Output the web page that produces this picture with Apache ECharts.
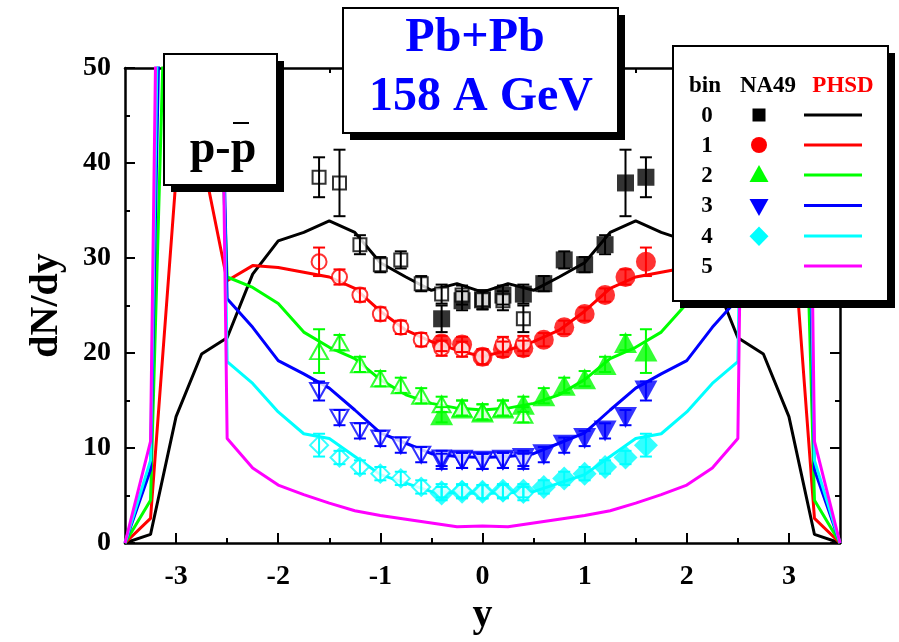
<!DOCTYPE html>
<html>
<head>
<meta charset="utf-8">
<title>Pb+Pb 158 A GeV  p - pbar</title>
<script src="https://cdn.jsdelivr.net/npm/echarts@6.0.0/dist/echarts.min.js"></script>
<style>
    html, body { margin: 0; padding: 0; background: #ffffff; }
    #chart01 { width: 899px; height: 642px; }
</style>
</head>
<body>
<div id="chart01"></div>
<script>
var FONT = '"Liberation Serif", "Times New Roman", serif';

// PHSD curves, rapidity grid
var phsdY = [-3.5, -3.25, -3.0, -2.75, -2.5, -2.25, -2.0, -1.75, -1.5, -1.25, -1.0, -0.75, -0.5, -0.25, 0,
             0.25, 0.5, 0.75, 1.0, 1.25, 1.5, 1.75, 2.0, 2.25, 2.5, 2.75, 3.0, 3.25, 3.5];
var phsdBin0 = [0, 0.9, 13.3, 19.9, 21.6, 28.3, 31.8, 32.7, 33.9, 32.7, 29.5, 28.0, 26.6, 27.3, 26.4,
                27.3, 26.6, 28.0, 29.5, 32.7, 33.9, 32.7, 31.8, 28.3, 21.6, 19.9, 13.3, 0.9, 0];
var phsdBin1 = [0, 2.6, 38.5, 41.0, 27.6, 29.2, 29.0, 28.5, 28.0, 26.8, 24.4, 22.4, 21.2, 20.3, 19.6,
                20.3, 21.2, 22.4, 24.4, 26.8, 28.0, 28.5, 29.0, 29.2, 27.6, 41.0, 38.5, 2.6, 0];
var phsdBin2 = [0, 4.5, 100, 100, 28.0, 26.9, 25.2, 22.2, 20.6, 19.4, 17.2, 15.6, 14.7, 14.2, 14.0,
                14.2, 14.7, 15.6, 17.2, 19.4, 20.6, 22.2, 25.2, 26.9, 28.0, 100, 100, 4.5, 0];
var phsdBin3 = [0, 7.7, 145, 145, 25.7, 22.7, 19.2, 17.8, 16.3, 14.0, 11.6, 10.5, 9.4, 9.1, 9.0,
                9.1, 9.4, 10.5, 11.6, 14.0, 16.3, 17.8, 19.2, 22.7, 25.7, 145, 145, 7.7, 0];
var phsdBin4 = [0, 8.7, 175, 175, 19.1, 16.8, 13.8, 11.5, 11.0, 9.1, 7.2, 6.3, 5.4, 5.3, 5.2,
                5.3, 5.4, 6.3, 7.2, 9.1, 11.0, 11.5, 13.8, 16.8, 19.1, 175, 175, 8.7, 0];
var phsdBin5 = [0, 10.7, 215, 215, 11.0, 7.9, 6.1, 5.1, 4.2, 3.4, 2.9, 2.5, 2.1, 1.7, 1.8,
                1.7, 2.1, 2.5, 2.9, 3.4, 4.2, 5.1, 6.1, 7.9, 11.0, 215, 215, 10.7, 0];

// NA49 points (filled) and their reflection at -y (open)
var na49Y     = [-0.4, -0.2, 0, 0.2, 0.4, 0.6, 0.8, 1.0, 1.2, 1.4, 1.6];
var na49YRefl = [0.4, 0.2, 0, -0.2, -0.4, -0.6, -0.8, -1.0, -1.2, -1.4, -1.6];
var na49Bin0 = [23.6, 25.5, 25.6, 26.1, 26.2, 27.3, 29.8, 29.3, 31.4, 37.9, 38.5];
var na49Err0 = [1.4, 1.0, 1.0, 1.0, 1.0, 0.8, 0.9, 0.8, 1.0, 3.5, 2.1];
var na49Bin1 = [21.0, 20.9, 19.6, 20.4, 20.5, 21.4, 22.7, 24.1, 26.1, 28.0, 29.6];
var na49Err1 = [0.8, 0.8, 0.8, 0.8, 0.8, 0.7, 0.7, 0.7, 0.7, 0.8, 1.5];
var na49Bin2 = [13.5, 14.2, 13.8, 14.2, 14.6, 15.5, 16.6, 17.3, 18.8, 21.1, 20.2];
var na49Err2 = [0.8, 0.8, 0.8, 0.8, 0.8, 0.8, 0.8, 0.8, 0.8, 0.8, 2.3];
var na49Bin3 = [8.6, 8.7, 8.6, 8.7, 8.9, 9.3, 10.3, 11.0, 11.8, 13.2, 16.0];
var na49Err3 = [0.8, 0.8, 0.8, 0.8, 0.8, 0.8, 0.8, 0.8, 0.8, 0.8, 1.0];
var na49Bin4 = [5.2, 5.4, 5.4, 5.5, 5.5, 5.9, 6.8, 7.3, 8.0, 9.0, 10.3];
var na49Err4 = [0.7, 0.7, 0.7, 0.7, 0.7, 0.7, 0.7, 0.7, 0.7, 0.7, 1.2];

var xMajor = [-3, -2, -1, 0, 1, 2, 3];
var xMinor = [-2.5, -1.5, -0.5, 0.5, 1.5, 2.5];
var binLabels = ['0', '1', '2', '3', '4', '5'];
var binColors = ['#000000', '#ff0000', '#00ff00', '#0000ff', '#00ffff', '#ff00ff'];

function pairs(xs, ys) {
    var out = [];
    for (var i = 0; i < xs.length; i++) out.push([xs[i], ys[i]]);
    return out;
}

function triples(xs, ys, es) {
    var out = [];
    for (var i = 0; i < xs.length; i++) out.push([xs[i], ys[i], es[i]]);
    return out;
}

function errorBars(name, color, data) {
    return {
        name: name,
        type: 'custom',
        z: 6,
        encode: { x: 0, y: 1 },
        data: data,
        renderItem: function (params, api) {
            var x = api.value(0), y = api.value(1), e = api.value(2);
            var hi = api.coord([x, y + e]);
            var lo = api.coord([x, y - e]);
            var w = 6;
            var st = { stroke: color, lineWidth: 2 };
            return {
                type: 'group',
                children: [
                    { type: 'line', shape: { x1: hi[0], y1: hi[1], x2: lo[0], y2: lo[1] }, style: st },
                    { type: 'line', shape: { x1: hi[0] - w, y1: hi[1], x2: hi[0] + w, y2: hi[1] }, style: st },
                    { type: 'line', shape: { x1: lo[0] - w, y1: lo[1], x2: lo[0] + w, y2: lo[1] }, style: st }
                ]
            };
        }
    };
}

function box(x, y, w, h) {
    return [
        { type: 'rect', z: 100, shape: { x: x + 7, y: y + 7, width: w, height: h }, style: { fill: '#000' } },
        { type: 'rect', z: 101, shape: { x: x, y: y, width: w, height: h },
          style: { fill: '#fff', stroke: '#000', lineWidth: 2 } }
    ];
}

function txt(x, y, s, size, color) {
    return {
        type: 'text', z: 102, x: x, y: y,
        style: {
            text: s, fill: color || '#000', fontFamily: FONT, fontWeight: 'bold', fontSize: size,
            align: 'center', verticalAlign: 'middle'
        }
    };
}

function chart01(id) {
    var myChart = echarts.init(document.getElementById(id));

    var phsdAll = [phsdBin0, phsdBin1, phsdBin2, phsdBin3, phsdBin4, phsdBin5];
    var na49All = [na49Bin0, na49Bin1, na49Bin2, na49Bin3, na49Bin4];
    var errAll = [na49Err0, na49Err1, na49Err2, na49Err3, na49Err4];

    var fullSym = ['rect', 'circle', 'triangle', 'triangle', 'diamond'];
    var openSym = ['emptyRect', 'emptyCircle', 'emptyTriangle', 'emptyTriangle', 'emptyDiamond'];
    var fullSize = [17, 20, [23, 21], [23, 21], 24];
    var openSize = [13, 15, [18, 16], [18, 16], 18];
    var rot = [0, 0, 0, 180, 0];

    var series = [];
    for (var i = 0; i < phsdAll.length; i++) {
        series.push({
            name: 'PHSD ' + binLabels[i],
            type: 'line',
            z: 2,
            symbol: 'none',
            clip: true,
            lineStyle: { color: binColors[i], width: 3 },
            data: pairs(phsdY, phsdAll[i])
        });
    }
    for (var j = 0; j < na49All.length; j++) {
        series.push({
            name: 'NA49 ' + binLabels[j],
            type: 'scatter',
            z: 3,
            symbol: fullSym[j],
            symbolSize: fullSize[j],
            symbolRotate: rot[j],
            itemStyle: { color: binColors[j] },
            data: pairs(na49Y, na49All[j])
        });
        series.push({
            name: 'NA49 refl ' + binLabels[j],
            type: 'scatter',
            z: 4,
            symbol: openSym[j],
            symbolSize: openSize[j],
            symbolRotate: rot[j],
            itemStyle: { color: binColors[j], borderWidth: 1.5 },
            data: pairs(na49YRefl, na49All[j])
        });
        series.push(errorBars('err ' + binLabels[j], binColors[j],
            triples(na49Y, na49All[j], errAll[j]).concat(triples(na49YRefl, na49All[j], errAll[j]))));
    }

    var axisLineStyle = { color: '#000', width: 2.5 };

    // boxes: p-pbar label, system label, legend
    var g = [];
    g = g.concat(box(164, 54, 113, 131));
    g.push(txt(223, 150, 'p-p', 46));
    g.push({ type: 'line', z: 102, shape: { x1: 233, y1: 123, x2: 249, y2: 123 }, style: { stroke: '#000', lineWidth: 2 } });

    g = g.concat(box(343, 8, 275, 125));
    g.push(txt(475, 39, 'Pb+Pb', 48, '#0000ff'));
    g.push(txt(481, 98, '158 A GeV', 48, '#0000ff'));

    g = g.concat(box(673, 46, 215, 255));
    g.push(txt(705, 86, 'bin', 23));
    g.push(txt(768, 86, 'NA49', 23));
    g.push(txt(843, 86, 'PHSD', 23, '#ff0000'));
    var rowY = [116, 146, 176, 206.5, 237, 267];
    for (var k = 0; k < binLabels.length; k++) {
        g.push(txt(707, rowY[k], binLabels[k], 23));
        g.push({ type: 'line', z: 102, shape: { x1: 804, y1: rowY[k] - 1, x2: 862, y2: rowY[k] - 1 },
                 style: { stroke: binColors[k], lineWidth: 3 } });
    }
    var mx = 759;
    g.push({ type: 'rect', z: 102, shape: { x: mx - 6.5, y: 108.5, width: 13, height: 13 }, style: { fill: binColors[0] } });
    g.push({ type: 'circle', z: 102, shape: { cx: mx, cy: 145, r: 8 }, style: { fill: binColors[1] } });
    g.push({ type: 'polygon', z: 102, shape: { points: [[mx - 9.5, 182], [mx + 9.5, 182], [mx, 165]] }, style: { fill: binColors[2] } });
    g.push({ type: 'polygon', z: 102, shape: { points: [[mx - 9.5, 199], [mx + 9.5, 199], [mx, 216]] }, style: { fill: binColors[3] } });
    g.push({ type: 'polygon', z: 102, shape: { points: [[mx, 226.5], [mx + 9.5, 236.3], [mx, 246], [mx - 9.5, 236.3]] }, style: { fill: binColors[4] } });

    var option = {
        animation: false,
        backgroundColor: '#ffffff',
        grid: { left: 125, right: 59, top: 68, bottom: 99 },
        xAxis: [
            {
                type: 'value', position: 'bottom', min: -3.5, max: 3.5,
                name: 'y', nameLocation: 'middle', nameGap: 48,
                nameTextStyle: { fontFamily: FONT, fontWeight: 'bold', fontSize: 40, color: '#000' },
                axisLine: { show: true, onZero: false, lineStyle: axisLineStyle },
                axisTick: { show: true, inside: true, length: 10, customValues: xMajor, lineStyle: { color: '#000', width: 2 } },
                axisLabel: { customValues: xMajor, margin: 20, fontFamily: FONT, fontWeight: 'bold', fontSize: 28, color: '#000' },
                splitLine: { show: false }
            },
            {
                type: 'value', position: 'bottom', min: -3.5, max: 3.5,
                axisLine: { show: false, onZero: false },
                axisTick: { show: true, inside: true, length: 5, customValues: xMinor, lineStyle: { color: '#000', width: 2 } },
                axisLabel: { show: false },
                splitLine: { show: false }
            },
            {
                type: 'value', position: 'top', min: -3.5, max: 3.5,
                axisLine: { show: true, onZero: false, lineStyle: axisLineStyle },
                axisTick: { show: true, inside: true, length: 10, customValues: xMajor, lineStyle: { color: '#000', width: 2 } },
                axisLabel: { show: false },
                splitLine: { show: false }
            },
            {
                type: 'value', position: 'top', min: -3.5, max: 3.5,
                axisLine: { show: false, onZero: false },
                axisTick: { show: true, inside: true, length: 5, customValues: xMinor, lineStyle: { color: '#000', width: 2 } },
                axisLabel: { show: false },
                splitLine: { show: false }
            }
        ],
        yAxis: [
            {
                type: 'value', position: 'left', min: 0, max: 50, interval: 10,
                name: 'dN/dy', nameLocation: 'middle', nameGap: 58, nameRotate: 90,
                nameTextStyle: { fontFamily: FONT, fontWeight: 'bold', fontSize: 40, color: '#000' },
                axisLine: { show: true, onZero: false, lineStyle: axisLineStyle },
                axisTick: { show: true, inside: true, length: 10, lineStyle: { color: '#000', width: 2 } },
                minorTick: { show: true, splitNumber: 2, length: 5, lineStyle: { color: '#000', width: 2 } },
                axisLabel: { margin: 14, fontFamily: FONT, fontWeight: 'bold', fontSize: 28, color: '#000' },
                splitLine: { show: false }
            },
            {
                type: 'value', position: 'right', min: 0, max: 50, interval: 10,
                axisLine: { show: true, onZero: false, lineStyle: axisLineStyle },
                axisTick: { show: true, inside: true, length: 10, lineStyle: { color: '#000', width: 2 } },
                minorTick: { show: true, splitNumber: 2, length: 5, lineStyle: { color: '#000', width: 2 } },
                axisLabel: { show: false },
                splitLine: { show: false }
            }
        ],
        graphic: { elements: g },
        series: series
    };

    myChart.setOption(option);
    return myChart;
}

window.onload = function () {
    var chartInit01 = chart01('chart01');
    window.onresize = function () {
        chartInit01.resize();
    };
};
</script>
</body>
</html>
